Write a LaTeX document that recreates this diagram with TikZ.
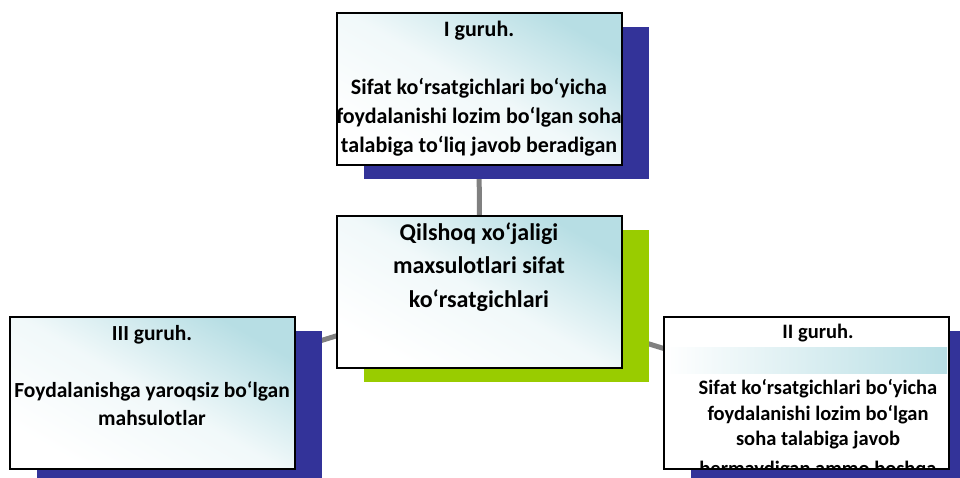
\documentclass[tikz,border=0pt]{standalone}
\usepackage{fontspec}
\setmainfont{Carlito}
\usetikzlibrary{shadows,backgrounds}
\definecolor{tealg}{RGB}{183,222,228}
\definecolor{navyb}{RGB}{51,51,153}
\definecolor{limeg}{RGB}{153,204,0}
\definecolor{conng}{RGB}{128,128,128}
\tikzset{
  boxbase/.style={draw=black, line width=2pt, minimum width=285pt, minimum height=152pt, inner sep=0pt},
  shadedbox/.style={boxbase, top color=tealg, bottom color=white, middle color=tealg!20!white, shading angle=-30},
  plainbox/.style={boxbase, fill=white},
  navyshadow/.style={general shadow={fill=navyb, shadow xshift=27pt, shadow yshift=-14pt}},
  limeshadow/.style={general shadow={fill=limeg, shadow xshift=27pt, shadow yshift=-14pt}},
  conn/.style={draw=conng, line width=5pt},
  lbl/.style={align=center, inner sep=0pt, anchor=base, text=black},
}
\begin{document}
\begin{tikzpicture}[x=1pt,y=-1pt]
\useasboundingbox (0,0) rectangle (960,477);
% boxes
\node[shadedbox, navyshadow] (g1) at (479,88.5) {};
\node[shadedbox, limeshadow] (main) at (479.5,291.5) {};
\node[shadedbox, navyshadow] (g3) at (152,393) {};
\node[plainbox, navyshadow] (g2) at (806,392.5) {};
% band in right box
\shade[left color=white, right color=tealg] (665,347) rectangle (947,373);
% texts (anchor base = baseline of the last line)
\node[lbl, font=\bfseries\fontsize{22}{29}\selectfont] (t1) at (479,152)
  {I guruh.\\ \\ Sifat ko‘rsatgichlari bo‘yicha\\ foydalanishi lozim bo‘lgan soha\\ talabiga to‘liq javob beradigan};
\node[lbl, font=\bfseries\fontsize{24}{33.5}\selectfont] (tm) at (479,307)
  {Qilshoq xo‘jaligi\\ maxsulotlari sifat\\ ko‘rsatgichlari};
\node[lbl, font=\bfseries\fontsize{21.5}{28.5}\selectfont] (t3) at (152,425.5)
  {III guruh.\\ \\ Foydalanishga yaroqsiz bo‘lgan\\ mahsulotlar};
\begin{scope}
  \clip (665,318) rectangle (947,467);
  \node[lbl, font=\bfseries\fontsize{20.5}{25.5}\selectfont] (t2) at (818,475)
    {II guruh.\\[30.5pt] Sifat ko‘rsatgichlari bo‘yicha\\ foydalanishi lozim bo‘lgan\\ soha talabiga javob\\[4pt] bermaydigan ammo boshqa};
\end{scope}
% connectors
\begin{scope}[on background layer]
  \draw[conn] (main.center) -- (g1.center);
  \draw[conn] (main.center) -- (g3.center);
  \draw[conn] (main.center) -- (g2.center);
\end{scope}
\end{tikzpicture}
\end{document}
